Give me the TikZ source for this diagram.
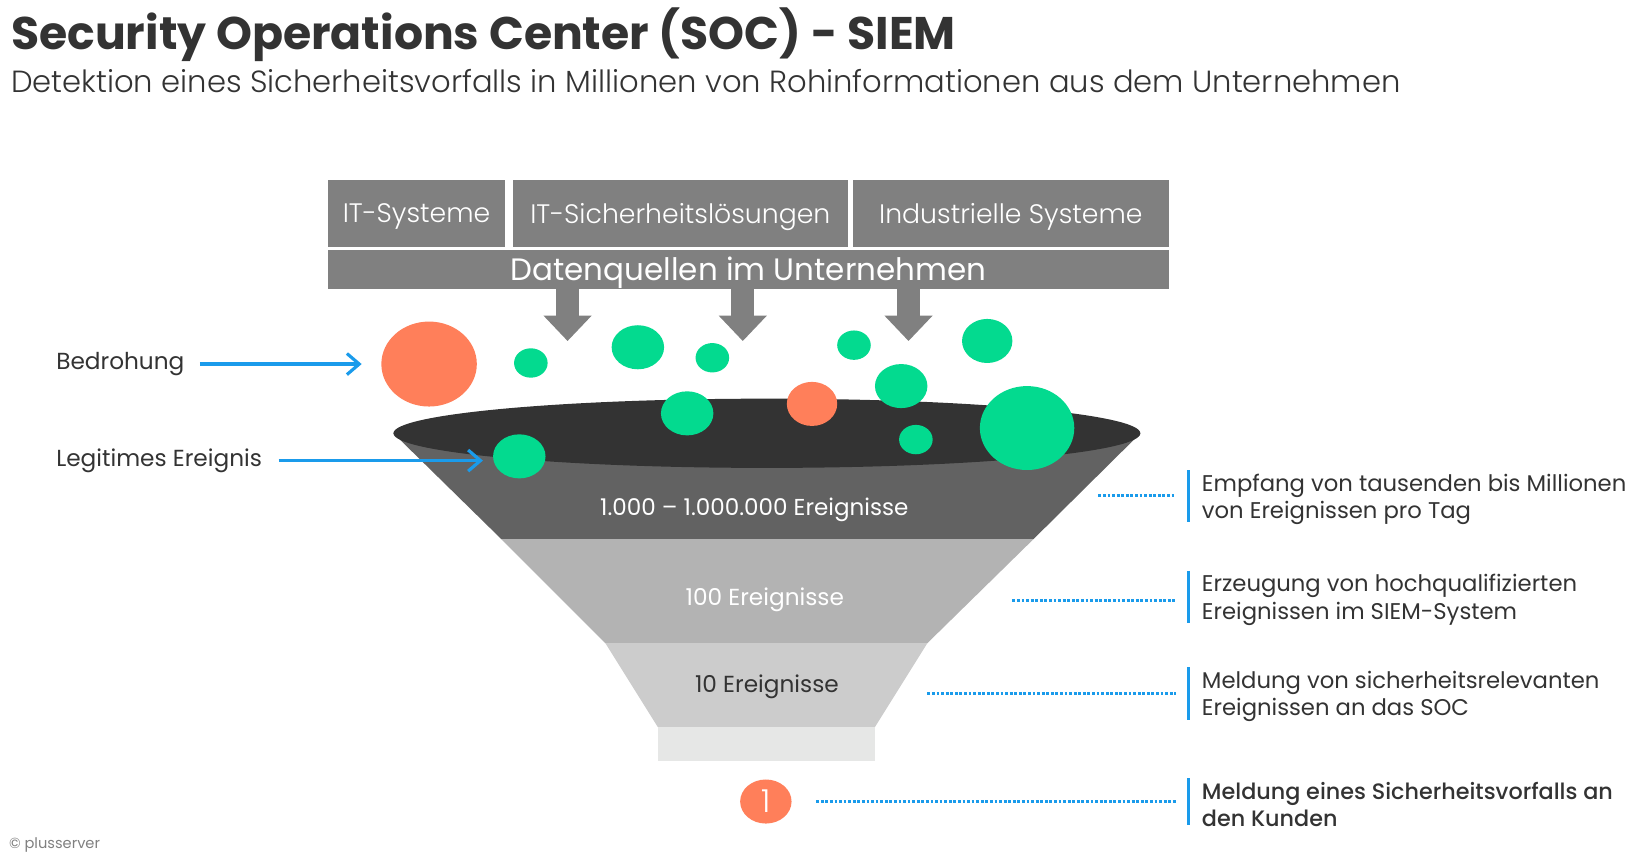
\documentclass[tikz,border=0pt]{standalone}
\usepackage{fontspec}
\setmainfont{Poppins}
\newfontfamily\lightfont{Poppins Light}
\newfontfamily\mediumfont{Poppins Medium}
\usetikzlibrary{arrows.meta,shapes.geometric,positioning}

\definecolor{socorange}{HTML}{FF7F5A}
\definecolor{socgreen}{HTML}{03DA8F}
\definecolor{socblue}{HTML}{1A9BEB}
\definecolor{boxgray}{HTML}{808080}
\definecolor{darktext}{HTML}{333333}
\definecolor{rimgray}{HTML}{333333}
\definecolor{levelA}{HTML}{626262}
\definecolor{levelB}{HTML}{B3B3B3}
\definecolor{levelC}{HTML}{CCCCCC}
\definecolor{levelD}{HTML}{E6E7E6}

\newcommand{\pxu}{0.01049cm}

\begin{document}
\begin{tikzpicture}[x=0.01049cm,y=-0.01049cm,
    source/.style={fill=boxgray,text=white,inner sep=0pt,text depth=0pt,font=\lightfont\fontsize{7.6}{9}\selectfont},
    ball/.style={ellipse,inner sep=0pt},
    feed/.style={boxgray,line width=6.6pt,-{Triangle[length=7.2pt,width=13.7pt,line width=0pt]}},
    pointer/.style={socblue,line width=0.9pt,-{Straight Barb[length=3.5pt,width=6pt]}},
    leader/.style={socblue,line width=0.9pt,dash pattern=on 0.8pt off 0.5pt},
    label/.style={anchor=west,inner sep=0pt,text=darktext,font=\fontsize{6.6}{7.8}\selectfont},
    note/.style={anchor=west,align=left,inner sep=0pt,text=darktext,font=\fontsize{6.46}{7.8}\selectfont}]

  \useasboundingbox (0,0) rectangle (1568,821);

  % heading
  \node[anchor=base west,inner sep=0pt,text=darktext,font=\fontsize{13}{15}\selectfont\bfseries] (title) at (10,47)
    {Security Operations Center (SOC) - SIEM};
  \node[anchor=base west,inner sep=0pt,text=darktext,font=\lightfont\fontsize{8.7}{11}\selectfont] (subtitle) at (10,88)
    {Detektion eines Sicherheitsvorfalls in Millionen von Rohinformationen aus dem Unternehmen};

  % data sources
  \node[source,minimum width=168*\pxu,minimum height=63*\pxu] (itsys) at (397,203.5) {IT-Systeme};
  \node[source,minimum width=319*\pxu,minimum height=63*\pxu] (itsec) at (648.5,203.5) {IT-Sicherheitslösungen};
  \node[source,minimum width=301*\pxu,minimum height=63*\pxu] (industry) at (963.5,203.5) {Industrielle Systeme};
  \node[source,minimum width=801*\pxu,minimum height=37*\pxu,font=\fontsize{8.8}{11}\selectfont] (quellen) at (713.5,256.5)
    {Datenquellen im Unternehmen};

  \foreach \fx [count=\i] in {541,708,866} {
      \coordinate (in\i) at (\fx,325);
      \draw[feed] (quellen.south -| in\i) -- (in\i);
  }

  % funnel
  \fill[levelA] (375,413) -- (1087,413) -- (985,514) -- (478,514) -- cycle;
  \fill[levelB] (478,514) -- (985,514) -- (884,613) -- (577,613) -- cycle;
  \fill[levelC] (577,613) -- (884,613) -- (834,693) -- (627,693) -- cycle;
  \fill[levelD] (627,693) rectangle (834,725);
  \fill[rimgray] (731,413) ellipse (356 and 33);

  \node[text=white,font=\fontsize{6.55}{7.6}\selectfont] (lvl1) at (719,486) {1.000 – 1.000.000 Ereignisse};
  \node[text=white,font=\fontsize{6.6}{7.8}\selectfont] (lvl2) at (729,572) {100 Ereignisse};
  \node[text=darktext,font=\fontsize{6.6}{7.8}\selectfont] (lvl3) at (731,655) {10 Ereignisse};

  % events
  \node[ball,fill=socorange,minimum width=91*\pxu,minimum height=81*\pxu] (threat) at (409,347) {};
  \node[ball,fill=socorange,minimum width=48*\pxu,minimum height=42*\pxu] (hit) at (774,385) {};
  \node[ball,fill=socgreen,minimum width=50*\pxu,minimum height=42*\pxu] (legit) at (495,435) {};
  \foreach \bx/\by/\bw/\bh [count=\i] in {506/346/32/28, 608/331/50/42, 679/341/32/28, 814/329/32/28,
      941/325/48/42, 859/368/50/42, 655/394/50/42, 873/419/32/28, 979/408/90/80} {
      \node[ball,fill=socgreen,minimum width=\bw*\pxu,minimum height=\bh*\pxu] (ev\i) at (\bx,\by) {};
  }

  % legend on the left
  \node[label] (bedrohung) at (53,347) {Bedrohung};
  \node[label] (legtext) at (53,439) {Legitimes Ereignis};
  \draw[pointer,shorten <=4.2pt,shorten >=5.4pt] (bedrohung) -- (bedrohung -| threat.west);
  \draw[pointer,shorten <=4.5pt,shorten >=2.7pt] (legtext) -- (legtext -| legit.west);

  % result
  \node[ball,fill=socorange,text=white,minimum width=49*\pxu,minimum height=42*\pxu,
        font=\lightfont\fontsize{9}{10}\selectfont] (alert) at (730,764) {1};

  % notes on the right
  \node[note] (note1) at (1145,476) {Empfang von tausenden bis Millionen\\von Ereignissen pro Tag};
  \node[note] (note2) at (1145,572) {Erzeugung von hochqualifizierten\\Ereignissen im SIEM-System};
  \node[note] (note3) at (1145,664) {Meldung von sicherheitsrelevanten\\Ereignissen an das SOC};
  \node[note,font=\mediumfont\fontsize{6.34}{7.8}\selectfont] (note4) at (1145,767)
    {Meldung eines Sicherheitsvorfalls an\\den Kunden};

  \foreach \lx/\ly [count=\i] in {1047/472, 965/572, 884/661, 778/764} {
      \coordinate (tap\i) at (\lx,\ly);
      \draw[leader,shorten >=7.2pt] (tap\i) -- (tap\i -| note\i.west);
      \draw[socblue,line width=1pt] ([xshift=-3.6pt,yshift=0.9pt]note\i.north west) -- ([xshift=-3.6pt,yshift=0.9pt]note\i.south west);
  }

  \node[anchor=west,inner sep=0pt,text=gray,font=\fontsize{4.16}{5}\selectfont] (credit) at (8,805) {© plusserver};
\end{tikzpicture}
\end{document}
